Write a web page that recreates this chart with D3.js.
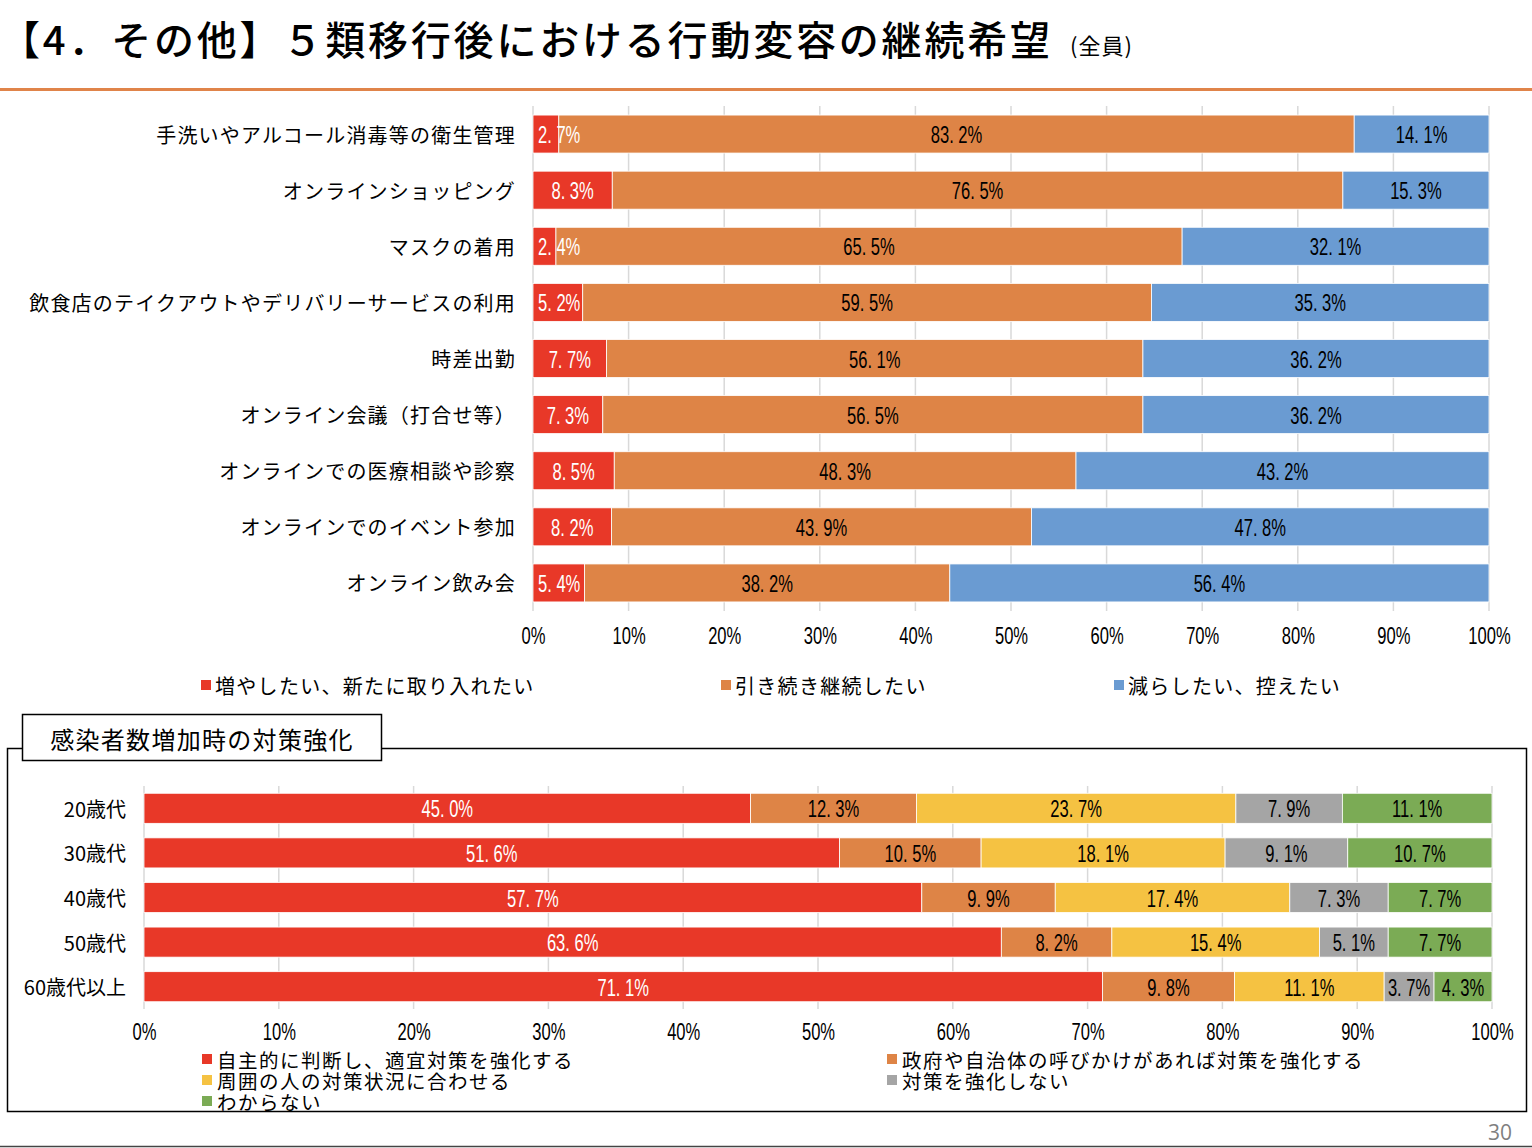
<!DOCTYPE html>
<html><head><meta charset="utf-8">
<script src="https://cdn.jsdelivr.net/npm/d3@7"></script>
<style>
body{margin:0;background:#fff;}
svg{display:block;}
.jp{font-family:"Noto Sans CJK JP","Noto Sans",sans-serif;}
.num{font-family:"Liberation Sans","Roboto",sans-serif;}
</style></head>
<body>
<svg id="c" width="1532" height="1148"></svg>
<script>
// ---------- DATA ----------
const titleText = "【4．その他】５類移行後における行動変容の継続希望";
const titleSub = "(全員)";

const topCategories = [
  "手洗いやアルコール消毒等の衛生管理",
  "オンラインショッピング",
  "マスクの着用",
  "飲食店のテイクアウトやデリバリーサービスの利用",
  "時差出勤",
  "オンライン会議（打合せ等）",
  "オンラインでの医療相談や診察",
  "オンラインでのイベント参加",
  "オンライン飲み会"
];
const topSeriesNames = ["増やしたい、新たに取り入れたい", "引き続き継続したい", "減らしたい、控えたい"];
const topIncrease = [2.7, 8.3, 2.4, 5.2, 7.7, 7.3, 8.5, 8.2, 5.4];
const topContinue = [83.2, 76.5, 65.5, 59.5, 56.1, 56.5, 48.3, 43.9, 38.2];
const topDecrease = [14.1, 15.3, 32.1, 35.3, 36.2, 36.2, 43.2, 47.8, 56.4];

const boxTitle = "感染者数増加時の対策強化";
const bottomCategories = ["20歳代", "30歳代", "40歳代", "50歳代", "60歳代以上"];
const bottomSeriesNames = [
  "自主的に判断し、適宜対策を強化する",
  "政府や自治体の呼びかけがあれば対策を強化する",
  "周囲の人の対策状況に合わせる",
  "対策を強化しない",
  "わからない"
];
const bottomSelf = [45.0, 51.6, 57.7, 63.6, 71.1];
const bottomGov = [12.3, 10.5, 9.9, 8.2, 9.8];
const bottomOthers = [23.7, 18.1, 17.4, 15.4, 11.1];
const bottomNone = [7.9, 9.1, 7.3, 5.1, 3.7];
const bottomUnknown = [11.1, 10.7, 7.7, 7.7, 4.3];

const xTickValues = [0, 10, 20, 30, 40, 50, 60, 70, 80, 90, 100];
const pageNumber = "30";

// ---------- STYLE ----------
const topColors = ["#E83828", "#DE8446", "#6A9BD2"];
const topLabelColors = ["#fff", "#000", "#000"];
const bottomColors = ["#E83828", "#DE8446", "#F5C242", "#A5A5A5", "#7BAB55"];
const bottomLabelColors = ["#fff", "#000", "#000", "#000", "#000"];
const NARROW = 0.72; // horizontal compression for numeric labels

const svg = d3.select("#c");
const fmt = v => d3.format(".1f")(v).replace(".", ". ") + "%";

// Title
svg.append("text").attr("class", "jp").attr("x", 0).attr("y", 55)
  .attr("font-size", 40).attr("font-weight", 500).attr("letter-spacing", 2.8)
  .attr("fill", "#000").text(titleText);
svg.append("text").attr("class", "jp").attr("x", 1070).attr("y", 54)
  .attr("font-size", 22).attr("letter-spacing", 1).attr("fill", "#000").text(titleSub);
svg.append("rect").attr("x", 0).attr("y", 88).attr("width", 1532).attr("height", 3).attr("fill", "#E0844A");

// ---------- generic stacked chart ----------
function stackedChart(cfg) {
  const keys = cfg.series.map((_, i) => "s" + i);
  const rows = cfg.categories.map((c, i) => {
    const o = {cat: c};
    const tot = d3.sum(cfg.series, s => s[i]);
    cfg.series.forEach((s, k) => { o["s" + k] = s[i] / tot * 100; o["v" + k] = s[i]; });
    return o;
  });
  const stack = d3.stack().keys(keys)(rows);
  const x = d3.scaleLinear().domain([0, 100]).range(cfg.xRange);
  const y = d3.scaleBand().domain(cfg.categories).range(cfg.yRange)
    .paddingInner(cfg.pad).paddingOuter(cfg.pad / 2);
  const g = svg.append("g");

  // gridlines
  g.selectAll("line.grid").data(xTickValues).join("line")
    .attr("x1", d => x(d)).attr("x2", d => x(d))
    .attr("y1", cfg.yRange[0]).attr("y2", cfg.yRange[1])
    .attr("stroke", "#D9D9D9").attr("stroke-width", 1.5);

  // bars
  stack.forEach((layer, k) => {
    g.selectAll(null).data(layer).join("rect")
      .attr("x", d => x(d[0])).attr("width", d => x(d[1]) - x(d[0]))
      .attr("y", d => y(d.data.cat)).attr("height", y.bandwidth())
      .attr("fill", cfg.colors[k]).attr("stroke", "#fff").attr("stroke-width", 0.8);
  });
  // labels
  stack.forEach((layer, k) => {
    g.selectAll(null).data(layer).join("text")
      .attr("class", "num").attr("font-size", cfg.labelSize)
      .attr("fill", cfg.labelColors[k]).attr("text-anchor", "start")
      .attr("dominant-baseline", "central")
      .attr("y", d => y(d.data.cat) + y.bandwidth() / 2 + 1)
      .text(d => fmt(d.data["v" + k]))
      .each(function (d) {
        const w = this.getComputedTextLength() * NARROW;
        d3.select(this).attr("textLength", w).attr("lengthAdjust", "spacingAndGlyphs");
        let cx = (x(d[0]) + x(d[1])) / 2;
        if (k === 0) cx = Math.max(cx, x(0) + w / 2 + 5);
        d3.select(this).attr("x", cx - w / 2);
      });
  });
  // category labels
  g.selectAll(null).data(cfg.categories).join("text")
    .attr("class", "jp").attr("font-size", cfg.catSize).attr("letter-spacing", cfg.catSpacing)
    .attr("text-anchor", "end").attr("dominant-baseline", "central")
    .attr("x", cfg.catX).attr("y", d => y(d) + y.bandwidth() / 2)
    .attr("fill", "#000").text(d => d);
  // axis
  const axis = d3.axisBottom(x).tickValues(xTickValues).tickFormat(d => d + "%").tickSize(0).tickPadding(0);
  const ag = g.append("g").attr("transform", `translate(0,${cfg.tickY})`).call(axis);
  ag.select(".domain").remove();
  ag.selectAll("text").attr("class", "num").attr("font-size", 23).attr("fill", "#000")
    .attr("font-family", null).attr("dy", "0.35em").attr("y", 0).attr("text-anchor", "start")
    .each(function (d) {
      const w = this.getComputedTextLength() * NARROW;
      d3.select(this).attr("textLength", w).attr("lengthAdjust", "spacingAndGlyphs").attr("x", -w / 2);
    });
}

stackedChart({
  categories: topCategories,
  series: [topIncrease, topContinue, topDecrease],
  colors: topColors, labelColors: topLabelColors,
  xRange: [533, 1489], yRange: [106, 611], pad: 0.323,
  labelSize: 23, catSize: 20, catSpacing: 1.2, catX: 516, tickY: 636
});

// top legend
const topLegendX = [201, 721, 1114];
topSeriesNames.forEach((n, i) => {
  svg.append("rect").attr("x", topLegendX[i]).attr("y", 680).attr("width", 10).attr("height", 10).attr("fill", topColors[i]);
  svg.append("text").attr("class", "jp").attr("x", topLegendX[i] + 14).attr("y", 685)
    .attr("dominant-baseline", "central").attr("font-size", 20).attr("letter-spacing", 1.3)
    .attr("fill", "#000").text(n);
});

// frame + box title
svg.append("rect").attr("x", 7.5).attr("y", 748.5).attr("width", 1519).attr("height", 363)
  .attr("fill", "none").attr("stroke", "#000").attr("stroke-width", 1.5);
svg.append("rect").attr("x", 22.5).attr("y", 714.5).attr("width", 359).attr("height", 46)
  .attr("fill", "#fff").attr("stroke", "#000").attr("stroke-width", 1.5);
svg.append("text").attr("class", "jp").attr("x", 202).attr("y", 738)
  .attr("text-anchor", "middle").attr("dominant-baseline", "central")
  .attr("font-size", 24).attr("letter-spacing", 1.3).attr("fill", "#000").text(boxTitle);

stackedChart({
  categories: bottomCategories,
  series: [bottomSelf, bottomGov, bottomOthers, bottomNone, bottomUnknown],
  colors: bottomColors, labelColors: bottomLabelColors,
  xRange: [144, 1492], yRange: [786, 1009], pad: 0.326,
  labelSize: 23, catSize: 20, catSpacing: 0, catX: 126, tickY: 1032
});

// bottom legend
const bottomLegendPos = [[202, 1059], [887, 1059], [202, 1080], [887, 1080], [202, 1101]];
bottomSeriesNames.forEach((n, i) => {
  const [lx, ly] = bottomLegendPos[i];
  svg.append("rect").attr("x", lx).attr("y", ly - 5).attr("width", 10).attr("height", 10).attr("fill", bottomColors[i]);
  svg.append("text").attr("class", "jp").attr("x", lx + 15).attr("y", ly)
    .attr("dominant-baseline", "central").attr("font-size", 19.5).attr("letter-spacing", 1.5)
    .attr("fill", "#000").text(n);
});

// page number & bottom line
svg.append("text").attr("x", 1512).attr("y", 1132).attr("text-anchor", "end")
  .attr("dominant-baseline", "central").attr("font-family", "'Open Sans',sans-serif")
  .attr("font-size", 21).attr("fill", "#7F7F7F").text(pageNumber);
svg.append("line").attr("x1", 0).attr("x2", 1532).attr("y1", 1146.5).attr("y2", 1146.5)
  .attr("stroke", "#444").attr("stroke-width", 1.5);
</script>
</body></html>
